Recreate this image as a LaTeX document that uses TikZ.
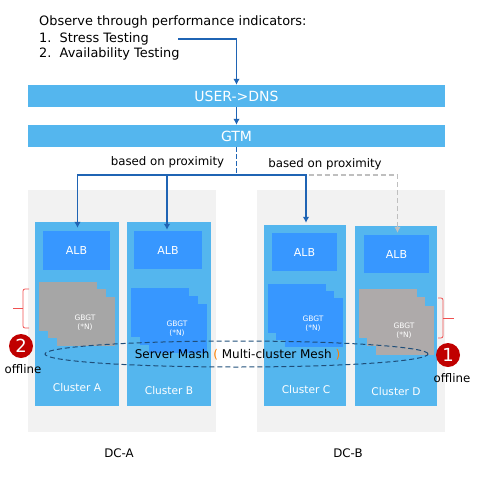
\documentclass[tikz,border=0pt]{standalone}
\usepackage{fontspec}
\setmainfont{DejaVu Sans}
\usetikzlibrary{arrows.meta,shapes.geometric}
\definecolor{ClusterBlue}{HTML}{54B6EE}
\definecolor{AlbBlue}{HTML}{3797FF}
\definecolor{RouteBlue}{HTML}{1F64B4}
\definecolor{MeshBlue}{HTML}{1F4E79}
\definecolor{DcGray}{HTML}{F2F2F2}
\definecolor{DeadGray}{HTML}{A6A6A6}
\definecolor{DeadGrayD}{HTML}{AEAAAA}
\definecolor{BadgeRed}{HTML}{C00000}
\definecolor{RouteGray}{HTML}{BFBFBF}
\definecolor{BraceRed}{HTML}{F05050}
\begin{document}
\begin{tikzpicture}[x=1pt, y=-1pt, inner sep=0pt,
      route/.style={draw=RouteBlue, line width=1.1pt, -{Latex[length=6pt,width=6.5pt]}},
      plain/.style={font=\fontsize{12.9}{15}\selectfont, anchor=west, color=black},
      bar/.style={fill=ClusterBlue, minimum width=417pt, minimum height=22pt, text=white, font=\fontsize{14}{16}\selectfont},
      dc/.style={fill=DcGray, minimum width=188pt, minimum height=242pt},
      cluster/.style={fill=ClusterBlue, text=white},
      alb/.style={fill=AlbBlue, text=white, font=\fontsize{11}{13}\selectfont},
      layer/.style={minimum width=58pt, minimum height=49pt},
      small/.style={text=white, font=\fontsize{7.5}{9}\selectfont, align=center},
      tag/.style={text=white, font=\fontsize{10.6}{12}\selectfont},
      badge/.style={circle, fill=BadgeRed, minimum size=24pt, text=white, font=\fontsize{18}{18}\selectfont},
      brace/.style={draw=BraceRed, line width=0.8pt},
      word/.style={font=\fontsize{11.8}{14}\selectfont, color=black}]
    \useasboundingbox (0,0) rectangle (481,483);
    % header text
    \node (observe) [plain] at (39,22) {Observe through performance indicators:};
    \node (stress) [plain] at (39,39) {1.\ \ Stress Testing};
    \node (avail) [plain] at (39,54) {2.\ \ Availability Testing};
    \node (dns) [bar] at (236.5,96) {USER->DNS};
    \node (gtm) [bar] at (236.5,136) {GTM};
    % data centres
    \node (dcA) [dc] at (122,311) {};
    \node (dcB) [dc] at (351,311) {};
    \node (clusterA) [cluster, minimum width=84pt, minimum height=184pt] at (77,314) {};
    \node (clusterB) [cluster, minimum width=84pt, minimum height=184pt] at (169,314) {};
    \node (clusterC) [cluster, minimum width=82pt, minimum height=181pt] at (305,315.5) {};
    \node (clusterD) [cluster, minimum width=82pt, minimum height=180pt] at (396,316) {};
    \node (albA) [alb, minimum width=67pt, minimum height=39pt] at (76.5,250.5) {ALB};
    \node (albB) [alb, minimum width=68pt, minimum height=38pt] at (168,250) {ALB};
    \node (albC) [alb, minimum width=65pt, minimum height=38pt] at (304.5,252) {ALB};
    \node (albD) [alb, minimum width=65pt, minimum height=38pt] at (396.5,254) {ALB};
    % instance stacks
    \foreach \n/\cx/\cy in {a1/68/306.5, a2/76.5/313.5, a3/85.5/321.5}
      \node (\n) [layer, fill=DeadGray] at (\cx,\cy) {};
    \foreach \n/\cx/\cy in {b1/159.5/312.5, b2/168.5/320, b3/177.5/328.5, c1/296.5/308, c2/305/315, c3/313.5/322.5}
      \node (\n) [layer, fill=AlbBlue] at (\cx,\cy) {};
    \foreach \n/\cx/\cy in {d1/387.5/313.5, d2/396/321.5, d3/404.5/330}
      \node (\n) [layer, fill=DeadGrayD] at (\cx,\cy) {};
    \node (gbgtA) [small] at (85,322.5) {GBGT\\(*N)};
    \node (gbgtB) [small] at (177,329) {GBGT\\(*N)};
    \node (gbgtC) [small] at (313,323.5) {GBGT\\(*N)};
    \node (gbgtD) [small] at (404,330.5) {GBGT\\(*N)};
    \node (tagA) [tag] at (77,388) {Cluster A};
    \node (tagB) [tag] at (169,391) {Cluster B};
    \node (tagC) [tag] at (306,390) {Cluster C};
    \node (tagD) [tag] at (396,392) {Cluster D};
    % mesh
    \node (mesh) [ellipse, draw=MeshBlue, dash pattern=on 5pt off 3pt, line width=1pt, minimum width=383pt, minimum height=26pt] at (236.5,354) {};
    \node (meshtext) [font=\fontsize{12}{14}\selectfont] at (237.5,355) {Server Mash\ \textcolor{orange}{(}\ Multi-cluster Mesh\ \textcolor{orange}{)}};
    % routes
    \coordinate (probe) at (178,39);
    \coordinate (fork) at (236.5,175);
    \draw [route] (probe) -| (dns.north);
    \draw [route] (dns.south) -- (gtm.north);
    \draw [route, draw=RouteGray, dash pattern=on 5pt off 3pt, -{Latex[length=6pt,width=6.5pt]}, shorten >=2pt] (fork) -| ([xshift=1pt]albD.north);
    \draw [draw=RouteBlue, line width=1.1pt, dash pattern=on 5pt off 2pt] (gtm.south) -- (fork);
    \draw [route, shorten >=3pt] (fork) -| ([xshift=1pt]albA.north);
    \draw [route, shorten >=1pt] (fork) -| ([xshift=-1pt]albB.north);
    \draw [route, shorten >=2pt] (fork) -| ([xshift=1pt]clusterC.north);
    \node (proxyL) [word] at (167.5,162) {based on proximity};
    \node (proxyR) [word] at (325,164) {based on proximity};
    % offline marks
    \draw [brace, rounded corners=2pt] (29,289) -- (23,289) -- (23,328) -- (29,328);
    \draw [brace] (23,308) -- (13,308);
    \draw [brace, rounded corners=2pt] (438,298) -- (443,298) -- (443,338) -- (438,338);
    \draw [brace] (443,318) -- (454,318);
    \node (badgeA) [badge] at (21,346) {2};
    \node (badgeD) [badge] at (448,355) {1};
    \node (offA) [word] at (23,369) {offline};
    \node (offD) [word] at (452,378) {offline};
    \node (nameA) [word] at (119,453) {DC-A};
    \node (nameB) [word] at (348,453) {DC-B};
\end{tikzpicture}
\end{document}
